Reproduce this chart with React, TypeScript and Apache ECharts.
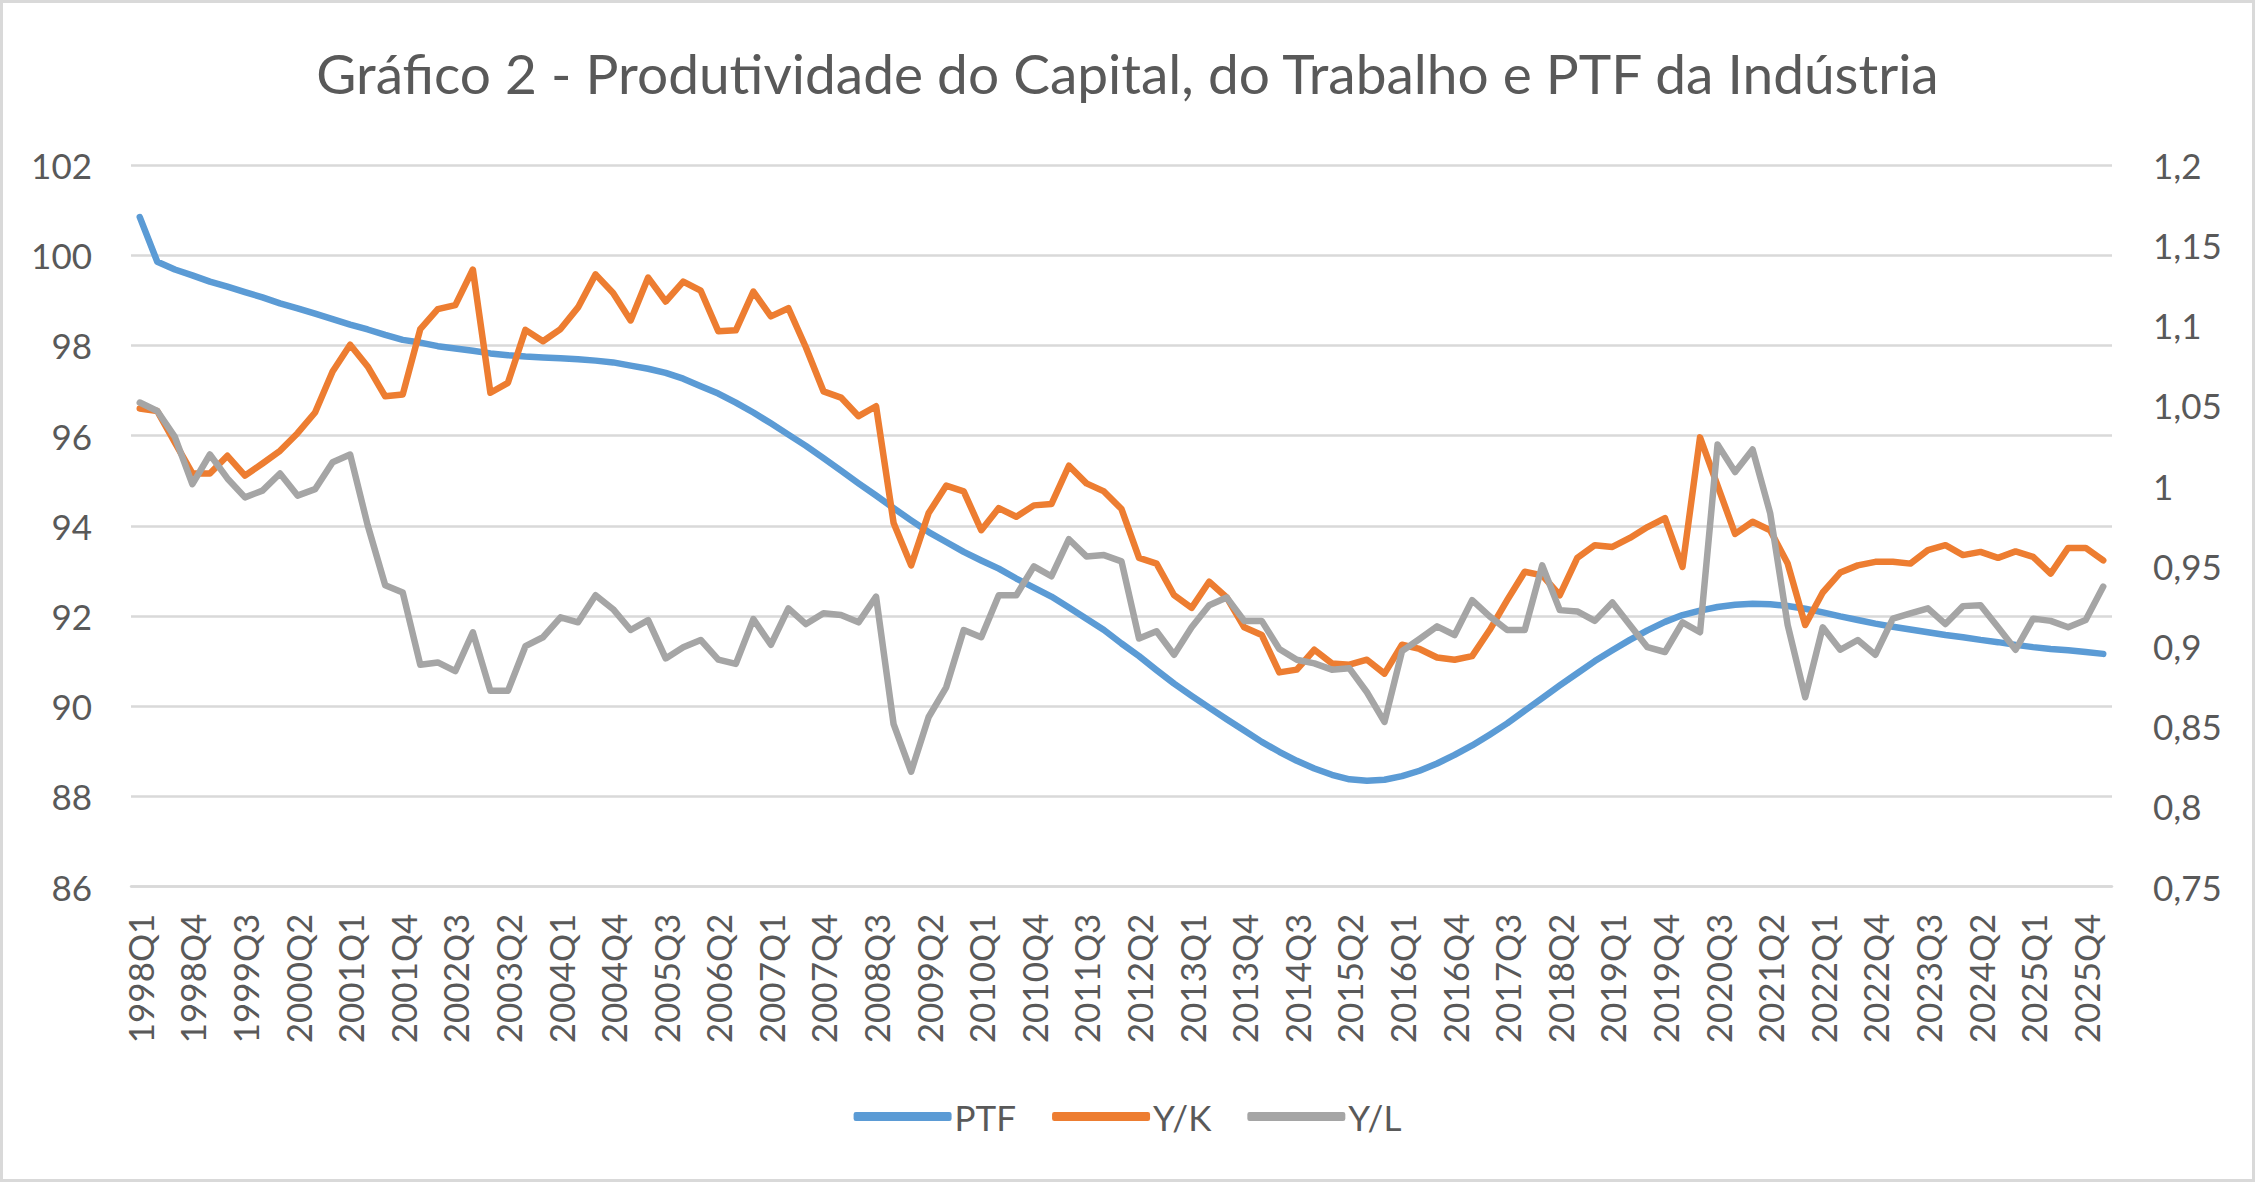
import React, { useEffect, useRef } from "react";
import * as echarts from "echarts";

const TITLE = "Gráfico 2 - Produtividade do Capital, do Trabalho e PTF da Indústria";
const FIRST_YEAR = 1998;
const LAST_YEAR = 2026;
const LAST_QUARTER_OF_LAST_YEAR = 1;

const categories: string[] = [];
for (let y = FIRST_YEAR; y <= LAST_YEAR; y++) {
  for (let q = 1; q <= 4; q++) {
    if (y === LAST_YEAR && q > LAST_QUARTER_OF_LAST_YEAR) break;
    categories.push(`${y}Q${q}`);
  }
}

const leftAxis = { min: 86, max: 102, interval: 2 };
const rightAxis = { min: 0.75, max: 1.2, interval: 0.05 };

// PTF (left axis)
const ptf = [
  100.84, 99.85, 99.68, 99.55, 99.41, 99.3, 99.18, 99.06, 98.93, 98.82,
  98.7, 98.58, 98.46, 98.35, 98.23, 98.12, 98.06, 97.98, 97.93, 97.88,
  97.82, 97.78, 97.75, 97.73, 97.71, 97.69, 97.66, 97.62, 97.55, 97.48,
  97.39, 97.26, 97.09, 96.93, 96.73, 96.51, 96.27, 96.02, 95.77, 95.5,
  95.22, 94.94, 94.67, 94.39, 94.12, 93.86, 93.64, 93.42, 93.23, 93.05,
  92.83, 92.63, 92.43, 92.19, 91.94, 91.69, 91.39, 91.11, 90.8, 90.5,
  90.23, 89.97, 89.71, 89.46, 89.21, 88.99, 88.79, 88.62, 88.48, 88.38,
  88.35, 88.37, 88.45, 88.57, 88.73, 88.92, 89.13, 89.37, 89.62, 89.9,
  90.18, 90.46, 90.73, 91.0, 91.24, 91.47, 91.68, 91.87, 92.02, 92.12,
  92.2, 92.25, 92.27, 92.26, 92.22, 92.16, 92.08, 91.99, 91.91, 91.83,
  91.76, 91.7, 91.64, 91.58, 91.53, 91.47, 91.42, 91.36, 91.31, 91.27,
  91.24, 91.2, 91.16,
];

// Y/K (right axis)
const yk = [
  1.0481, 1.0465, 1.027, 1.0076, 1.0076, 1.0186, 1.0062, 1.0138, 1.0217, 1.0327,
  1.0456, 1.0712, 1.0878, 1.0743, 1.0557, 1.0568, 1.0976, 1.11, 1.1125, 1.1347,
  1.0579, 1.0641, 1.0971, 1.09, 1.0976, 1.1111, 1.1317, 1.1201, 1.103, 1.1297,
  1.1148, 1.1272, 1.1215, 1.0962, 1.0968, 1.121, 1.1055, 1.1106, 1.0861, 1.0588,
  1.0549, 1.0433, 1.0495, 0.9767, 0.9503, 0.9829, 1.0, 0.9964, 0.9722, 0.986,
  0.9806, 0.9877, 0.9885, 1.0124, 1.0014, 0.9964, 0.9854, 0.955, 0.9514, 0.9317,
  0.9238, 0.9401, 0.9303, 0.9117, 0.9069, 0.8836, 0.8853, 0.8977, 0.8892, 0.8884,
  0.8915, 0.8828, 0.9008, 0.8982, 0.8929, 0.8915, 0.8937, 0.91, 0.9286, 0.9463,
  0.9441, 0.9317, 0.955, 0.9629, 0.9618, 0.9674, 0.9742, 0.9798, 0.9494, 1.0301,
  1.0, 0.9699, 0.9775, 0.9722, 0.9514, 0.9131, 0.9334, 0.9458, 0.9503, 0.9525,
  0.9525, 0.9514, 0.9598, 0.9629, 0.9567, 0.9587, 0.955, 0.959, 0.9556, 0.9452,
  0.9612, 0.9612, 0.9534,
];

// Y/L (right axis)
const yl = [
  1.0518, 1.0465, 1.0304, 1.0009, 1.0194, 1.0045, 0.9927, 0.9969, 1.0076, 0.9938,
  0.9978, 1.0146, 1.0194, 0.9753, 0.9379, 0.9334, 0.8884, 0.8898, 0.8844, 0.9086,
  0.8721, 0.8721, 0.8999, 0.9055, 0.9179, 0.9148, 0.9317, 0.923, 0.91, 0.9162,
  0.8923, 0.8993, 0.9038, 0.8915, 0.8889, 0.9168, 0.9008, 0.9235, 0.9137, 0.9204,
  0.9193, 0.9148, 0.9308, 0.8513, 0.8217, 0.8558, 0.8743, 0.91, 0.9055, 0.9317,
  0.9317, 0.9497, 0.9435, 0.9666, 0.9559, 0.9567, 0.9528, 0.9047, 0.9092, 0.8946,
  0.9117, 0.9255, 0.9303, 0.9157, 0.9157, 0.8982, 0.8915, 0.8892, 0.8853, 0.8861,
  0.8712, 0.8527, 0.8968, 0.9044, 0.9123, 0.9069, 0.9286, 0.9185, 0.91, 0.91,
  0.9503, 0.9224, 0.9216, 0.9157, 0.9272, 0.9131, 0.8993, 0.8963, 0.9148, 0.9086,
  1.0256, 1.0085, 1.0225, 0.9829, 0.9131, 0.8681, 0.9117, 0.8977, 0.9038, 0.8946,
  0.9171, 0.9204, 0.9235, 0.9137, 0.9249, 0.9255, 0.9117, 0.8977, 0.9171, 0.9157,
  0.9117, 0.9162, 0.9371,
];

const seriesNames = ["PTF", "Y/K", "Y/L"];
const seriesColors = ["#5B9BD5", "#ED7D31", "#A5A5A5"];

const FONT = "Lato";
const TEXT = "#595959";
const GRID = "#D9D9D9";

export default function App() {
  const ref = useRef<HTMLDivElement>(null);

  useEffect(() => {
    document.body.style.margin = "0";
    if (!ref.current) return;
    const chart = echarts.init(ref.current, undefined, { renderer: "svg" });
    const fmtRight = (v: number) => String(Number(v.toFixed(2))).replace(".", ",");
    const lineStyle = (c: string) => ({ color: c, width: 6.5, cap: "round", join: "round" });
    chart.setOption({
      animation: false,
      backgroundColor: "#FFFFFF",
      title: {
        text: TITLE,
        left: "center",
        top: 40,
        textStyle: { fontFamily: FONT, fontSize: 55, fontWeight: "normal", color: TEXT },
      },
      legend: {
        data: seriesNames,
        left: "center",
        top: 1094,
        icon: "roundRect",
        itemWidth: 98,
        itemHeight: 9,
        itemGap: 36,
        textStyle: { fontFamily: FONT, fontSize: 35, color: TEXT, padding: [0, 0, 0, -2] },
      },
      grid: { left: 131, right: 143, top: 164.8, bottom: 295.3 },
      xAxis: {
        type: "category",
        data: categories,
        boundaryGap: true,
        axisLine: { show: true, lineStyle: { color: GRID, width: 2.5 } },
        axisTick: { show: false },
        axisLabel: {
          interval: 2,
          rotate: 90,
          margin: 27,
          fontFamily: FONT,
          fontSize: 35,
          color: TEXT,
        },
      },
      yAxis: [
        {
          type: "value",
          min: leftAxis.min,
          max: leftAxis.max,
          interval: leftAxis.interval,
          position: "left",
          axisLine: { show: false },
          axisTick: { show: false },
          splitLine: { show: true, lineStyle: { color: GRID, width: 2.5 } },
          axisLabel: { margin: 39, fontFamily: FONT, fontSize: 35, color: TEXT },
        },
        {
          type: "value",
          min: rightAxis.min,
          max: rightAxis.max,
          interval: rightAxis.interval,
          position: "right",
          axisLine: { show: false },
          axisTick: { show: false },
          splitLine: { show: false },
          axisLabel: {
            margin: 41,
            fontFamily: FONT,
            fontSize: 35,
            color: TEXT,
            formatter: fmtRight,
          },
        },
      ],
      graphic: [
        {
          type: "rect",
          shape: { x: 1.5, y: 1.5, width: 2252, height: 1179 },
          style: { fill: "none", stroke: GRID, lineWidth: 3 },
          silent: true,
        },
      ],
      series: [
        {
          name: seriesNames[0],
          type: "line",
          yAxisIndex: 0,
          data: ptf,
          showSymbol: false,
          symbol: "none",
          color: seriesColors[0],
          lineStyle: lineStyle(seriesColors[0]),
        },
        {
          name: seriesNames[1],
          type: "line",
          yAxisIndex: 1,
          data: yk,
          showSymbol: false,
          symbol: "none",
          color: seriesColors[1],
          lineStyle: lineStyle(seriesColors[1]),
        },
        {
          name: seriesNames[2],
          type: "line",
          yAxisIndex: 1,
          data: yl,
          showSymbol: false,
          symbol: "none",
          color: seriesColors[2],
          lineStyle: lineStyle(seriesColors[2]),
        },
      ],
    });
    return () => chart.dispose();
  }, []);

  return <div ref={ref} style={{ width: 2255, height: 1182 }} />;
}
